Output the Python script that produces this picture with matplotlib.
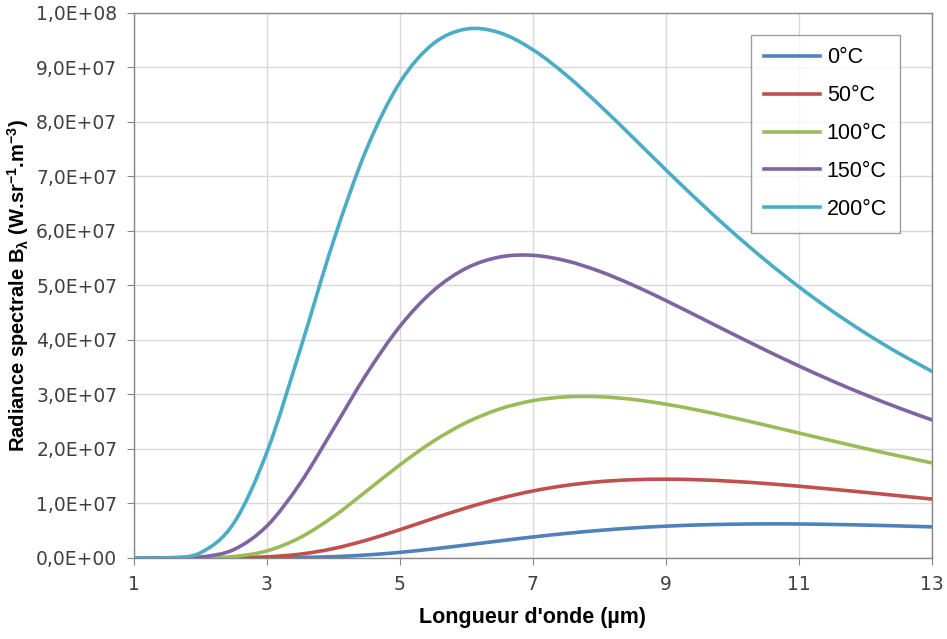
"""
Spectral radiance vs wavelength for 5 temperatures
"""
import matplotlib
matplotlib.use("Agg")
import matplotlib.pyplot as plt
from matplotlib.lines import Line2D
from matplotlib.patches import PathPatch
from matplotlib.path import Path
from matplotlib.ticker import FuncFormatter, MultipleLocator
import numpy as np

plt.rcParams["mathtext.fontset"] = "custom"
plt.rcParams["mathtext.rm"] = "Liberation Sans:bold"
plt.rcParams["mathtext.it"] = "Liberation Sans:bold"
plt.rcParams["mathtext.bf"] = "Liberation Sans:bold"

# wavelength (µm)
wavelength = [1, 1.5, 2, 2.5, 3, 3.5, 4, 4.5, 5, 5.5, 6, 6.5, 7,
              7.5, 8, 8.5, 9, 9.5, 10, 10.5, 11, 11.5, 12, 12.5, 13]

# radiance, in units of 1e6 W.sr-1.m-3
b_0c = [0, 0, 0, 0, 0.01, 0.07, 0.22, 0.53, 1.01, 1.64, 2.36, 3.11, 3.83,
        4.48, 5.03, 5.48, 5.81, 6.04, 6.17, 6.23, 6.21, 6.13, 6.01, 5.86, 5.68]
b_50c = [0, 0, 0, 0.02, 0.18, 0.68, 1.70, 3.26, 5.17, 7.22, 9.18, 10.89, 12.27,
         13.29, 13.97, 14.33, 14.43, 14.32, 14.04, 13.64, 13.14, 12.59, 12.01, 11.40, 10.79]
b_100c = [0, 0, 0.02, 0.24, 1.28, 3.73, 7.57, 12.27, 17.07, 21.37, 24.83, 27.31, 28.84,
          29.54, 29.56, 29.07, 28.19, 27.05, 25.74, 24.34, 22.90, 21.47, 20.06, 18.71, 17.42]
b_150c = [0, 0, 0.15, 1.51, 5.86, 13.69, 23.66, 33.77, 42.48, 48.99, 53.15, 55.19, 55.50,
          54.50, 52.58, 50.07, 47.20, 44.17, 41.11, 38.10, 35.21, 32.47, 29.91, 27.52, 25.31]
b_200c = [0, 0.02, 0.93, 6.36, 19.42, 38.23, 58.12, 75.06, 87.23, 94.32, 97.02, 96.34, 93.22,
          88.58, 83.08, 77.18, 71.18, 65.34, 59.78, 54.56, 49.73, 45.29, 41.24, 37.56, 34.23]

labels = ["0°C", "50°C", "100°C", "150°C", "200°C"]
series = [b_0c, b_50c, b_100c, b_150c, b_200c]
colors = ["#4F81BD", "#C0504D", "#9BBB59", "#8064A2", "#4BACC6"]


def smooth_path(x, y):
    # Excel-style smoothed line: Catmull-Rom segments as cubic Beziers
    pts = np.column_stack([x, y])
    verts = [pts[0]]
    codes = [Path.MOVETO]
    n = len(pts)
    for i in range(n - 1):
        p0 = pts[max(i - 1, 0)]
        p1, p2 = pts[i], pts[i + 1]
        p3 = pts[min(i + 2, n - 1)]
        verts += [p1 + (p2 - p0) / 6, p2 - (p3 - p1) / 6, p2]
        codes += [Path.CURVE4] * 3
    return Path(verts, codes)


fig = plt.figure(figsize=(9.47, 6.39), dpi=100)
ax = fig.add_axes([0.1415, 0.127, 0.8425, 0.853])

handles = []
for lab, vals, col in zip(labels, series, colors):
    y = np.array(vals) * 1e6
    ax.add_patch(PathPatch(smooth_path(np.array(wavelength, float), y),
                           facecolor="none", edgecolor=col, linewidth=2.6,
                           capstyle="round", joinstyle="round", zorder=3))
    handles.append(Line2D([], [], color=col, linewidth=2.6, label=lab))

ax.set_xlim(1, 13)
ax.set_ylim(0, 1e8)
ax.set_xticks(range(1, 14, 2))
ax.yaxis.set_major_locator(MultipleLocator(1e7))
ax.yaxis.set_major_formatter(
    FuncFormatter(lambda v, _: f"{v:.1E}".replace(".", ",")))

ax.grid(True, color="#d9d9d9", linewidth=1.0, zorder=0)
ax.set_axisbelow(True)
for s in ax.spines.values():
    s.set_color("#868686")
    s.set_linewidth(1.0)
ax.tick_params(axis="both", direction="out", length=5, color="#868686",
               labelsize=13.5, labelcolor="#404040", pad=7)

ax.set_xlabel("Longueur d'onde (µm)", fontsize=15.5, fontweight="bold",
              family="Liberation Sans", labelpad=10)
ax.set_ylabel(r"Radiance spectrale B$_{λ}$ (W.sr$^{-1}$.m$^{-3}$)",
              fontsize=14.5, fontweight="bold", family="Liberation Sans", labelpad=4)

leg = ax.legend(handles=handles, loc="upper right", bbox_to_anchor=(0.96, 0.96),
                frameon=True, fancybox=False,
                edgecolor="#868686", handlelength=2.6, labelspacing=0.78,
                borderpad=0.6, handletextpad=0.3, borderaxespad=0,
                prop={"family": "Liberation Sans", "size": 15.5})
leg.get_frame().set_linewidth(1.0)

fig.savefig("out.png", dpi=100)
